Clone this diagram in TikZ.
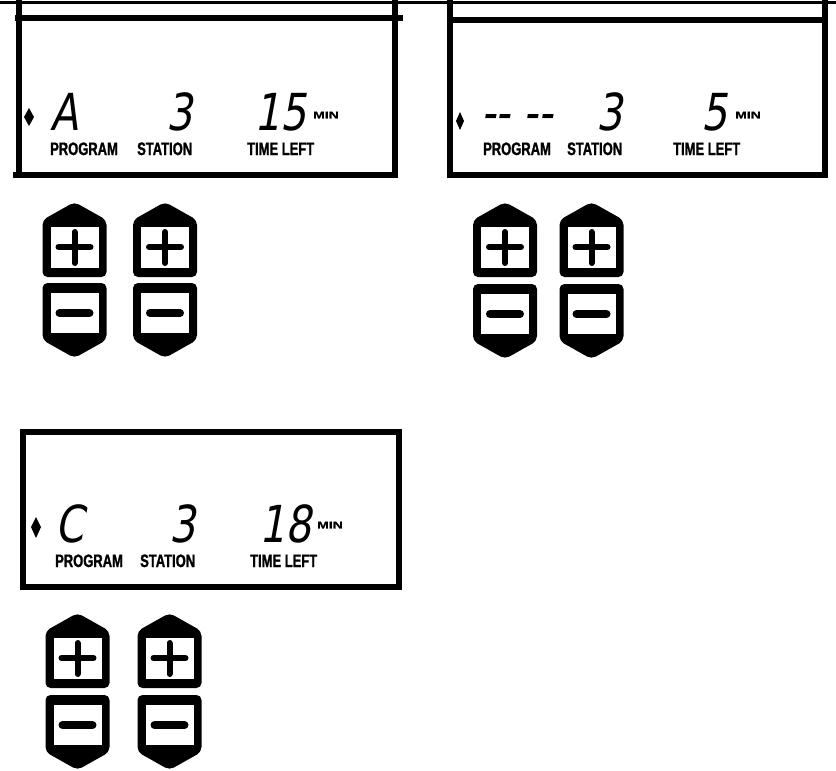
\documentclass[tikz,border=0pt]{standalone}
\usepackage{fontspec}
\usepackage{tikz}
\newfontfamily\segfont[FakeSlant=0.18,FakeStretch=0.8]{DejaVu Sans}
\newfontfamily\lcdlabel[FakeStretch=0.72,FakeBold=1.2,UprightFont={* Bold}]{Liberation Sans}
\newfontfamily\lcdunit[FakeStretch=1.4,FakeBold=1.2,UprightFont={* Bold}]{Liberation Sans}

\tikzset{
	frame/.style={line width=6pt},
	digit/.style={inner sep=0pt, font=\segfont\fontsize{51}{51}\selectfont},
	lbl/.style={inner sep=0pt, anchor=base west, font=\lcdlabel\fontsize{18}{18}\selectfont},
	unit/.style={inner sep=0pt, anchor=west, font=\lcdunit\fontsize{10}{10}\selectfont},
	plus key/.pic={
		\fill[rounded corners=5pt] (0,0) -- (32,18) -- (32,75) -- (-32,75) -- (-32,18) -- cycle;
		\fill[white] (-24,25) rectangle (24,66);
		\draw[line width=6pt, line cap=round] (-16,45) -- (16,45) (0,30) -- (0,61);
	},
	minus key/.pic={
		\fill[rounded corners=5pt] (-32,0) -- (32,0) -- (32,57) -- (0,75) -- (-32,57) -- cycle;
		\fill[white] (-24,10) rectangle (24,50);
		\draw[line width=8pt, line cap=round] (-15,30) -- (15,30);
	}
}

\begin{document}
\begin{tikzpicture}[x=1pt, y=-1pt]
	\useasboundingbox (0,0) rectangle (836,771);
	% top edge
	\draw[line width=3pt] (0,2) -- (836,2);

	% display 1 (program A)
	\draw[frame] (18.5,0) -- (18.5,177) (395,0) -- (395,177);
	\draw[frame] (15,18) -- (403,18) (13,174.5) -- (398,174.5);
	\fill (24,117) -- (29,108) -- (34,117) -- (29,126) -- cycle;
	\node[digit, anchor=base west] (progA) at (50,130) {A};
	\node[digit, anchor=base east] (statA) at (193,130) {3};
	\node[digit, anchor=base east] (timeA) at (307,130) {15};
	\node[unit] (minA) at (313,115) {MIN};
	\node[lbl] (progA lbl) at (50,155) {PROGRAM};
	\node[lbl] (statA lbl) at (137,155) {STATION};
	\node[lbl] (timeA lbl) at (247,155) {TIME LEFT};
	\pic at (74.5,202) {plus key};
	\pic at (165,202) {plus key};
	\pic at (74.5,283) {minus key};
	\pic at (165,283) {minus key};

	% display 2 (no program)
	\draw[frame] (450,0) -- (450,177) (825,0) -- (825,177);
	\draw[frame] (447,19.5) -- (828,19.5) (447,174.5) -- (828,174.5);
	\fill (456,121) -- (460,112) -- (464,121) -- (460,130) -- cycle;
	\node[digit, anchor=base west] (progB) at (481,130) {-{}- -{}-};
	\node[digit, anchor=base east] (statB) at (623,130) {3};
	\node[digit, anchor=base east] (timeB) at (728,130) {5};
	\node[unit] (minB) at (735,115) {MIN};
	\node[lbl] (progB lbl) at (483,155) {PROGRAM};
	\node[lbl] (statB lbl) at (567,155) {STATION};
	\node[lbl] (timeB lbl) at (673,155) {TIME LEFT};
	\pic at (505,202) {plus key};
	\pic at (591.5,202) {plus key};
	\pic at (505,284) {minus key};
	\pic at (591.5,284) {minus key};

	% display 3 (program C)
	\draw[line width=6.5pt] (23,432) rectangle (399,587);
	\fill (31,527) -- (36,517) -- (41,527) -- (36,538) -- cycle;
	\node[digit, anchor=base west] (progC) at (55,542) {C};
	\node[digit, anchor=base east] (statC) at (196,542) {3};
	\node[digit, anchor=base east] (timeC) at (312,542) {18};
	\node[unit] (minC) at (317,525) {MIN};
	\node[lbl] (progC lbl) at (55,567) {PROGRAM};
	\node[lbl] (statC lbl) at (140,567) {STATION};
	\node[lbl] (timeC lbl) at (250,567) {TIME LEFT};
	\pic at (77.5,613) {plus key};
	\pic at (169.5,613) {plus key};
	\pic at (77.5,695) {minus key};
	\pic at (169.5,695) {minus key};
\end{tikzpicture}
\end{document}
